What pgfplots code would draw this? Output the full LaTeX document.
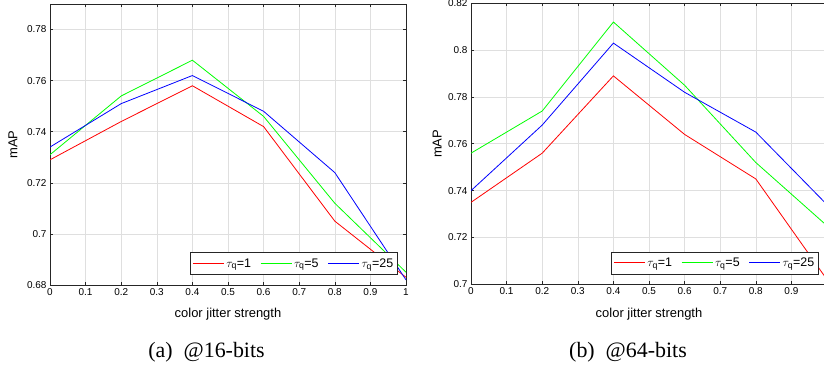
\documentclass[border=0pt]{standalone}
\usepackage{pgfplots}
\pgfplotsset{compat=1.18}
\usepackage{fontspec}
\setmainfont{Liberation Sans}
\newfontfamily\capfont{Liberation Serif}
\definecolor{axgray}{RGB}{38,38,38}
\definecolor{gridgray}{RGB}{223,223,223}
\definecolor{mred}{RGB}{255,0,0}
\definecolor{mgreen}{RGB}{0,255,0}
\definecolor{mblue}{RGB}{0,0,255}

\makeatletter
\newcommand\legline[3]{%
  \pgfsys@color@rgb@stroke{#1}{#2}{#3}%
  \pgfsys@color@rgb@fill{#1}{#2}{#3}%
  \pgfsetlinewidth{1bp}%
  \pgfpathmoveto{\pgfpoint{0bp}{0bp}}%
  \pgfpathlineto{\pgfpoint{31bp}{0bp}}%
  \pgfusepath{stroke}}
\makeatother

\pgfplotsset{
  mystyle/.style={
    scale only axis,
    width=356bp, height=281bp,
    xmin=0, xmax=1,
    xtick={0,0.1,0.2,0.3,0.4,0.5,0.6,0.7,0.8,0.9,1},
    tick align=inside,
    major tick length=3bp,
    grid=major,
    major grid style={gridgray, line width=0.6bp},
    axis line style={axgray, line width=0.6bp},
    every tick/.style={axgray, line width=0.6bp},
    tick label style={font=\fontsize{10}{12}\selectfont},
    /pgf/number format/assume math mode=true,
    xlabel={color jitter strength},
    ylabel={mAP},
    label style={font=\fontsize{13}{15}\selectfont},
    xlabel style={at={(axis description cs:0.5,-0.1174)}, anchor=base},
    legend columns=3,
    legend style={at={(axis description cs:1,0)}, anchor=south east,
      xshift=-8.5bp, yshift=10bp, draw=axgray, line width=0.6bp,
      fill=white, font=\fontsize{12.5}{14}\selectfont,
      inner xsep=2bp, inner ysep=4bp,
      /tikz/every even column/.append style={column sep=7bp}},
    legend cell align=left,
  },
  redleg/.style={legend image code/.code={\legline{1}{0}{0}}},
  greenleg/.style={legend image code/.code={\legline{0}{1}{0}}},
  blueleg/.style={legend image code/.code={\legline{0}{0}{1}}},
}

\begin{document}
\begin{tikzpicture}[x=1bp,y=1bp]
\path[use as bounding box] (0,0) rectangle (824,368);

% (a) 16 bits
\begin{axis}[mystyle,
  at={(50bp,83bp)}, anchor=south west,
  ymin=0.68, ymax=0.79,
  ytick={0.68,0.7,0.72,0.74,0.76,0.78},
  ylabel style={at={(axis description cs:-0.1039,0.5)}, anchor=center},
]
\addplot[draw=mred, line width=0.8bp, forget plot] coordinates {(0,0.729) (0.2,0.744) (0.4,0.758) (0.6,0.742) (0.8,0.705) (1,0.683)};
\addplot[draw=mgreen, line width=0.8bp, forget plot] coordinates {(0,0.731) (0.2,0.754) (0.4,0.768) (0.6,0.746) (0.8,0.712) (1,0.685)};
\addplot[draw=mblue, line width=0.8bp, forget plot] coordinates {(0,0.734) (0.2,0.751) (0.4,0.762) (0.6,0.748) (0.8,0.724) (1,0.682)};
\addlegendimage{redleg}
\addlegendentry{$\tau_{\mathrm{q}}$=1}
\addlegendimage{greenleg}
\addlegendentry{$\tau_{\mathrm{q}}$=5}
\addlegendimage{blueleg}
\addlegendentry{$\tau_{\mathrm{q}}$=25}
\end{axis}

% (b) 64 bits
\begin{axis}[mystyle,
  at={(471bp,83.7bp)}, anchor=south west,
  ymin=0.70, ymax=0.82,
  ytick={0.7,0.72,0.74,0.76,0.78,0.8,0.82},
  xticklabels={0,0.1,0.2,0.3,0.4,0.5,0.6,0.7,0.8,0.9,{}},
  ylabel style={at={(axis description cs:-0.0954,0.5)}, anchor=center},
]
\addplot[draw=mred, line width=0.8bp, forget plot] coordinates {(0,0.735) (0.2,0.756) (0.4,0.789) (0.6,0.764) (0.8,0.745) (1,0.702)};
\addplot[draw=mgreen, line width=0.8bp, forget plot] coordinates {(0,0.756) (0.2,0.774) (0.4,0.812) (0.6,0.785) (0.8,0.752) (1,0.725)};
\addplot[draw=mblue, line width=0.8bp, forget plot] coordinates {(0,0.740) (0.2,0.768) (0.4,0.803) (0.6,0.782) (0.8,0.765) (1,0.734)};
\addlegendimage{redleg}
\addlegendentry{$\tau_{\mathrm{q}}$=1}
\addlegendimage{greenleg}
\addlegendentry{$\tau_{\mathrm{q}}$=5}
\addlegendimage{blueleg}
\addlegendentry{$\tau_{\mathrm{q}}$=25}
\end{axis}

\node[anchor=base, font=\capfont\fontsize{22}{25}\selectfont] at (206.5,11) {(a)\ \ @16-bits};
\node[anchor=base, font=\capfont\fontsize{22}{25}\selectfont] at (628,11) {(b)\ \ @64-bits};
\end{tikzpicture}
\end{document}
